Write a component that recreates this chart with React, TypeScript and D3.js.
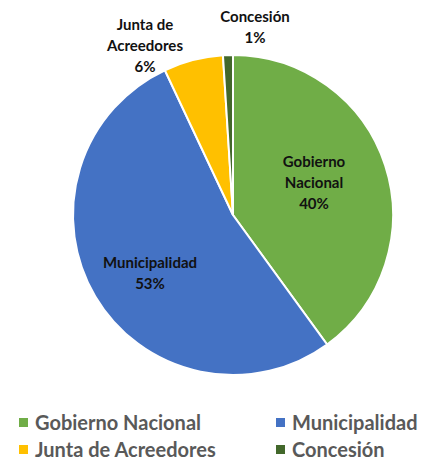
import React from "react";
import * as d3 from "d3";

const categories = ["Gobierno Nacional", "Municipalidad", "Junta de Acreedores", "Concesión"];
const values = [40, 53, 6, 1];
const colors = ["#70AD47", "#4472C4", "#FFC000", "#43682B"];
const labelLines = [["Gobierno", "Nacional"], ["Municipalidad"], ["Junta de", "Acreedores"], ["Concesión"]];
const pctLabels = ["40%", "53%", "6%", "1%"];

export default function App() {
  const W = 422, H = 460;
  const cx = 233, cy = 215, r = 160;
  const pie = d3.pie<number>().sort(null).value((d) => d)(values);
  const arc = d3.arc<d3.PieArcDatum<number>>().innerRadius(0).outerRadius(r);
  const font = "Lato, 'Open Sans', sans-serif";
  const labelPos: [number, number][] = [
    [314, 182],
    [150, 272],
    [145, 45],
    [255, 26],
  ];
  const legend = [
    { x: 23, y: 422 },
    { x: 280, y: 422 },
    { x: 23, y: 449 },
    { x: 280, y: 449 },
  ];
  return (
    <svg width={W} height={H} style={{ position: "absolute", left: 0, top: 0, background: "#fff" }}>
      <g transform={`translate(${cx},${cy})`}>
        {pie.map((p, i) => (
          <path key={i} d={arc(p) || ""} fill={colors[i]} stroke="#fff" strokeWidth={2} />
        ))}
      </g>
      {labelPos.map(([x, y], i) => {
        const lines = [...labelLines[i], pctLabels[i]];
        const lh = 21;
        const top = y - ((lines.length - 1) * lh) / 2;
        return (
          <text key={i} x={x} textAnchor="middle" fontFamily={font} fontWeight="bold" fontSize={15} fill="#111">
            {lines.map((t, j) => (
              <tspan key={j} x={x} y={top + j * lh} dominantBaseline="central">
                {t}
              </tspan>
            ))}
          </text>
        );
      })}
      {categories.map((c, i) => (
        <g key={c}>
          <rect x={legend[i].x - 4} y={legend[i].y - 4} width={9} height={9} fill={colors[i]} />
          <text x={legend[i].x + 12} y={legend[i].y} dominantBaseline="central" fontFamily={font} fontWeight="bold" fontSize={20} fill="#595959">
            {c}
          </text>
        </g>
      ))}
    </svg>
  );
}
